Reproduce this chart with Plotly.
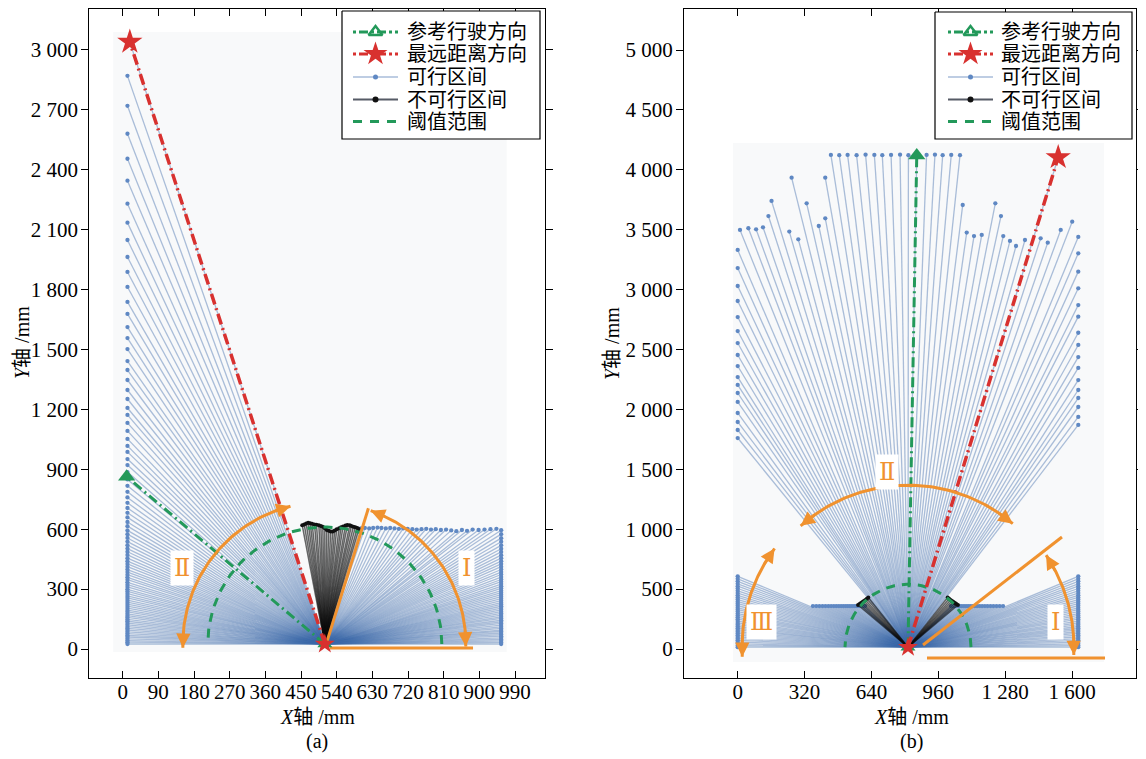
import math
import plotly.graph_objects as go

# page geometry: the browser body keeps an 8px margin, so the figure is drawn 8px smaller
W_REF, H_REF = 1146, 759
OFF = 8
W, H = W_REF - OFF, H_REF - OFF
FONT_NUM = "Liberation Serif"
FONT_CJK = "Noto Sans CJK SC"

GREEN = "#23995A"
RED = "#D8312F"
ORANGE = "#F0922F"
RAY_RGBA = "rgba(60,105,170,0.42)"
BLOCK_RGBA = "rgba(10,10,10,0.62)"
DOT_BLUE = "#5F88C3"

# ====================== panel (a) data ======================
A_ORIGIN = (510, 25)
A_REF_END = (10, 863)          # 参考行驶方向
A_FAR_END = (18, 3040)         # 最远距离方向
A_RIGHT_WALL_X = 955
a_right_wall_y = [25, 33, 41, 48, 56, 64, 72, 80, 88, 95, 103, 111, 120, 128, 136, 144, 153, 161,
                  170, 178, 187, 196, 205, 214, 223, 232, 242, 252, 262, 272, 282, 292, 303, 314,
                  325, 337, 348, 360, 373, 385, 398, 412, 426, 440, 455, 470, 486, 502, 519, 537,
                  555, 575, 595]
a_front_wall_x = [943, 928, 913, 898, 883, 869, 856, 842, 829, 816, 803, 790, 778, 766, 754, 742,
                  731, 719, 708, 697, 686, 675, 664, 653, 643, 632, 622, 611, 601]
a_front_wall_y = [602, 600, 598, 596, 598, 592, 596, 590, 594, 598, 596, 600, 598, 602, 600, 598,
                  600, 602, 604, 602, 604, 606, 604, 606, 608, 606, 604, 606, 604]
A_LEFT_WALL_X = 12
a_left_wall_y = [2870, 2720, 2580, 2455, 2345, 2230, 2135, 2048, 1963, 1888, 1813, 1738, 1678,
                 1612, 1557, 1502, 1442, 1397, 1347, 1297, 1252, 1207, 1172, 1132, 1092, 1052,
                 1017, 987, 951, 921, 886, 849, 817, 787, 759, 732, 706, 682, 659, 636, 615, 594,
                 575, 556, 538, 520, 503, 487, 471, 455, 440, 426, 412, 398, 385, 372, 359, 347,
                 334, 322, 311, 299, 288, 277, 266, 256, 245, 235, 225, 215, 205, 195, 186, 176,
                 167, 158, 148, 139, 130, 121, 112, 103, 95, 86, 77, 68, 60, 51, 42, 34, 25]
a_block_x = [596, 592, 587, 582, 577, 573, 567, 562, 556, 551, 546, 540, 535, 530, 525, 520, 515,
             510, 505, 500, 495, 489, 484, 478, 473, 468, 463, 458, 453]
a_block_y = [601, 606, 610, 612, 616, 620, 621, 618, 614, 610, 605, 600, 594, 588, 589, 592, 596,
             605, 612, 616, 620, 622, 624, 627, 630, 632, 628, 624, 620]
a_xtick_vals = [0, 90, 180, 270, 360, 450, 540, 630, 720, 810, 900, 990]
a_xtick_text = ["0", "90", "180", "270", "360", "450", "540", "630", "720", "810", "900", "990"]
a_ytick_vals = [0, 300, 600, 900, 1200, 1500, 1800, 2100, 2400, 2700, 3000]
a_ytick_text = ["0", "300", "600", "900", "1 200", "1 500", "1 800", "2 100", "2 400", "2 700", "3 000"]

# ====================== panel (b) data ======================
B_ORIGIN = (815, 15)
B_REF_END = (857, 4120)
B_FAR_END = (1534, 4104)
B_RIGHT_WALL_X = 1630
B_LEFT_WALL_X = 0
b_side_wall_y = [15, 29, 43, 58, 72, 86, 101, 115, 130, 144, 159, 173, 188, 203, 218, 233, 249,
                 264, 280, 296, 312, 328, 344, 361, 378, 395, 413, 430, 448, 467, 486, 505, 524,
                 544, 565, 586, 607]
B_FRONT_Y = 358
b_front_right_x = [1270, 1254, 1239, 1224, 1210, 1196, 1183, 1170, 1158, 1146, 1135, 1124, 1113,
                   1103, 1093, 1083, 1073, 1064, 1055, 1046, 1038, 1029, 1021]
b_front_left_x = [609, 601, 592, 584, 575, 566, 557, 547, 537, 527, 517, 506, 495, 484, 472, 460,
                  447, 434, 420, 406, 391, 376, 360]
b_block_x = [1005, 1012, 1019, 1026, 1033, 1040, 1047, 1054, 625, 618, 611, 604, 597, 590, 583, 576]
b_block_y = [430, 420, 410, 400, 392, 384, 376, 368, 430, 420, 410, 400, 392, 384, 376, 368]
b_far_right_col_y = [1870, 1937, 2020, 2095, 2162, 2245, 2346, 2437, 2538, 2640, 2774, 2871, 3011,
                     3150, 3303, 3440]
b_far_mid_x = [1601, 1546, 1484, 1450, 1534, 1375, 1332, 1303, 1271, 1260, 1233, 1168, 1131, 1096,
               1077, 1064, 1022, 981, 944, 904, 857, 817, 777, 734, 692, 654, 612, 569, 526, 486,
               446, 419, 419, 388, 330, 290, 258, 247, 162, 147, 121, 88, 51, 11]
b_far_mid_y = [3567, 3498, 3392, 3428, 4104, 3414, 3364, 3406, 3447, 3614, 3720, 3456, 3447, 3476,
               3706, 4122, 4124, 4122, 4126, 4124, 4120, 4122, 4126, 4124, 4122, 4124, 4126, 4122,
               4124, 4122, 4124, 3934, 3595, 3531, 3720, 3420, 3934, 3484, 3740, 3614, 3520, 3503,
               3512, 3498]
b_far_left_col_y = [3331, 3180, 3030, 2905, 2771, 2654, 2554, 2454, 2362, 2270, 2204, 2137, 2062,
                    1970, 1895, 1828, 1761]
b_xtick_vals = [0, 320, 640, 960, 1280, 1600]
b_xtick_text = ["0", "320", "640", "960", "1 280", "1 600"]
b_ytick_vals = [0, 500, 1000, 1500, 2000, 2500, 3000, 3500, 4000, 4500, 5000]
b_ytick_text = ["0", "500", "1 000", "1 500", "2 000", "2 500", "3 000", "3 500", "4 000", "4 500", "5 000"]

LEGEND_NAMES = ["参考行驶方向", "最远距离方向", "可行区间", "不可行区间", "阈值范围"]

# ====================== layout geometry (reference pixels) ======================
PA = dict(l=89.3, r=545.0, t=9.0, b=678.0, x0=122.7, kx=0.3963, y0=649.0, ky=0.1997)
PB = dict(l=684.0, r=1136.0, t=9.0, b=678.0, x0=737.7, kx=0.20894, y0=649.0, ky=0.1198)
for P in (PA, PB):
    P["xr"] = [(P["l"] - P["x0"]) / P["kx"], (P["r"] - P["x0"]) / P["kx"]]
    P["yr"] = [(P["y0"] - P["b"]) / P["ky"], (P["y0"] - P["t"]) / P["ky"]]


def fx(px):
    return (px - OFF) / W


def fy(py):
    return 1 - (py - OFF) / H


fig = go.Figure()
annotations = []


def ray_traces(origin, xs, ys, color, width, xa, ya, ngroups):
    groups = [([], []) for _ in range(ngroups)]
    for i, (x, y) in enumerate(zip(xs, ys)):
        gx, gy = groups[i % ngroups]
        gx += [origin[0], x, None]
        gy += [origin[1], y, None]
    for gx, gy in groups:
        fig.add_trace(go.Scatter(x=gx, y=gy, mode="lines", line=dict(color=color, width=width),
                                 hoverinfo="skip", showlegend=False, xaxis=xa, yaxis=ya))


def arc_pt(c, r_px, t, P):
    t = math.radians(t)
    return c[0] + r_px * math.cos(t) / P["kx"], c[1] + r_px * math.sin(t) / P["ky"]


def arc_xy(c, r_px, t0, t1, P, n=80):
    pts = [arc_pt(c, r_px, t0 + (t1 - t0) * i / (n - 1), P) for i in range(n)]
    return [p[0] for p in pts], [p[1] for p in pts]


def arrow_on_arc(c, r_px, t_tip, t_tail, P, xref, yref):
    tx, ty = arc_pt(c, r_px, t_tip, P)
    sx, sy = arc_pt(c, r_px, t_tail, P)
    annotations.append(dict(x=tx, y=ty, ax=sx, ay=sy, xref=xref, yref=yref,
                            axref=xref, ayref=yref, showarrow=True, arrowhead=2, arrowsize=1.1,
                            arrowwidth=2.6, arrowcolor=ORANGE, text=""))


def panel(origin, free_x, free_y, block_x, block_y, ref_end, far_end, P, xa, ya,
          thresh_px, orange_arcs, orange_lines, labels):
    ray_traces(origin, free_x, free_y, RAY_RGBA, 1.3, xa, ya, 10)
    fig.add_trace(go.Scatter(x=free_x, y=free_y, mode="markers",
                             marker=dict(size=4.3, color=DOT_BLUE), hoverinfo="skip",
                             showlegend=False, xaxis=xa, yaxis=ya))
    ray_traces(origin, block_x, block_y, BLOCK_RGBA, 1.5, xa, ya, 6)
    fig.add_trace(go.Scatter(x=block_x, y=block_y, mode="markers",
                             marker=dict(size=4, color="#111111"), hoverinfo="skip",
                             showlegend=False, xaxis=xa, yaxis=ya))
    tx, ty = arc_xy(origin, thresh_px, 0, 180, P)
    fig.add_trace(go.Scatter(x=tx, y=ty, mode="lines",
                             line=dict(color=GREEN, width=3, dash="9px,7px"),
                             hoverinfo="skip", showlegend=False, xaxis=xa, yaxis=ya))
    fig.add_trace(go.Scatter(x=[origin[0], ref_end[0]], y=[origin[1], ref_end[1]], mode="lines",
                             line=dict(color=GREEN, width=3, dash="10px,4px,2px,4px"),
                             hoverinfo="skip", showlegend=False, xaxis=xa, yaxis=ya))
    fig.add_trace(go.Scatter(x=[ref_end[0]], y=[ref_end[1]], mode="markers",
                             marker=dict(symbol="triangle-up", size=15, color=GREEN),
                             hoverinfo="skip", showlegend=False, xaxis=xa, yaxis=ya))
    fig.add_trace(go.Scatter(x=[origin[0], far_end[0]], y=[origin[1], far_end[1]], mode="lines",
                             line=dict(color=RED, width=3.5, dash="11px,4px,2px,4px"),
                             hoverinfo="skip", showlegend=False, xaxis=xa, yaxis=ya))
    fig.add_trace(go.Scatter(x=[far_end[0]], y=[far_end[1]], mode="markers",
                             marker=dict(symbol="star", size=19, color=RED),
                             hoverinfo="skip", showlegend=False, xaxis=xa, yaxis=ya))
    for (x0, y0, x1, y1) in orange_lines:
        fig.add_trace(go.Scatter(x=[x0, x1], y=[y0, y1], mode="lines",
                                 line=dict(color=ORANGE, width=3), hoverinfo="skip",
                                 showlegend=False, xaxis=xa, yaxis=ya))
    for (r_px, t0, t1) in orange_arcs:
        ax_, ay_ = arc_xy(origin, r_px, t0, t1, P)
        fig.add_trace(go.Scatter(x=ax_, y=ay_, mode="lines", line=dict(color=ORANGE, width=3),
                                 hoverinfo="skip", showlegend=False, xaxis=xa, yaxis=ya))
        arrow_on_arc(origin, r_px, t1, t1 - 7, P, xa, ya)
        arrow_on_arc(origin, r_px, t0, t0 + 7, P, xa, ya)
    fig.add_trace(go.Scatter(x=[origin[0]], y=[origin[1]], mode="markers",
                             marker=dict(symbol="triangle-up", size=13, color=GREEN),
                             hoverinfo="skip", showlegend=False, xaxis=xa, yaxis=ya))
    fig.add_trace(go.Scatter(x=[origin[0]], y=[origin[1]], mode="markers",
                             marker=dict(symbol="star", size=15, color=RED),
                             hoverinfo="skip", showlegend=False, xaxis=xa, yaxis=ya))
    for (lx, ly, txt) in labels:
        annotations.append(dict(x=lx, y=ly, xref=xa, yref=ya, text=txt, showarrow=False,
                                bgcolor="white", borderpad=3,
                                font=dict(family="DejaVu Serif", size=24, color=ORANGE)))


a_free_x = ([A_RIGHT_WALL_X] * len(a_right_wall_y) + a_front_wall_x + [A_FAR_END[0]]
            + [A_LEFT_WALL_X] * len(a_left_wall_y))
a_free_y = a_right_wall_y + a_front_wall_y + [A_FAR_END[1]] + a_left_wall_y

panel(A_ORIGIN, a_free_x, a_free_y, a_block_x, a_block_y, A_REF_END, A_FAR_END, PA, "x", "y",
      117,
      orange_arcs=[(141, -1.0, 71.0), (142, 104.0, 181.5)],
      orange_lines=[(514, 28, 620, 705), (523, 5, 884, 5)],
      labels=[(868, 405, "Ⅰ"), (149, 405, "Ⅱ")])

b_free_x = ([B_RIGHT_WALL_X] * len(b_side_wall_y) + b_front_right_x
            + [B_RIGHT_WALL_X] * len(b_far_right_col_y) + b_far_mid_x
            + [B_LEFT_WALL_X] * len(b_far_left_col_y) + b_front_left_x
            + [B_LEFT_WALL_X] * len(b_side_wall_y))
b_free_y = (b_side_wall_y + [B_FRONT_Y] * len(b_front_right_x) + b_far_right_col_y + b_far_mid_y
            + b_far_left_col_y + [B_FRONT_Y] * len(b_front_left_x) + b_side_wall_y[::-1])

panel(B_ORIGIN, b_free_x, b_free_y, b_block_x, b_block_y, B_REF_END, B_FAR_END, PB, "x2", "y2",
      63,
      orange_arcs=[(162, 49.7, 131.5), (166, 143.5, 183.3), (166, -2.7, 33.7)],
      orange_lines=[(887, 33, 1552, 935), (906, -75, 1758, -75)],
      labels=[(714, 1477, "Ⅱ"), (116, 225, "Ⅲ"), (1519, 225, "Ⅰ")])

# ---------------- hand-drawn legends on a full-page overlay (reference pixel units) ----------------
LEG_ROWS = [32, 54, 77, 99.5, 121.5]
LEG_FONT = dict(family="Liberation Serif, " + FONT_CJK, size=20, color="black")
for (bx0, bx1, by0, by1, sx0, sx1, tx) in ((342, 540, 11, 139, 353, 398, 406),
                                            (935, 1132, 12, 139, 948, 993, 1000)):
    fig.add_trace(go.Scatter(x=[bx0, bx1, bx1, bx0, bx0], y=[by0, by0, by1, by1, by0],
                             mode="lines", fill="toself", fillcolor="white",
                             line=dict(color="black", width=1.2), hoverinfo="skip",
                             showlegend=False, xaxis="x3", yaxis="y3"))
    sm = (sx0 + sx1) / 2
    samples = [
        (dict(color=GREEN, width=3, dash="3px,3px,9px,3px"),
         dict(symbol="triangle-up-open", size=12, color=GREEN, line=dict(width=2.5))),
        (dict(color=RED, width=3, dash="3px,3px,9px,3px"),
         dict(symbol="star", size=18, color=RED)),
        (dict(color="#A9BDDA", width=1.6), dict(size=5, color=DOT_BLUE)),
        (dict(color="#565b66", width=2), dict(size=6, color="#111111")),
        (dict(color=GREEN, width=3, dash="9px,8px"), None),
    ]
    for row, name, (ln, mk) in zip(LEG_ROWS, LEGEND_NAMES, samples):
        fig.add_trace(go.Scatter(x=[sx0, sx1], y=[row, row], mode="lines", line=ln,
                                 hoverinfo="skip", showlegend=False, xaxis="x3", yaxis="y3"))
        if mk is not None:
            fig.add_trace(go.Scatter(x=[sm], y=[row], mode="markers", marker=mk,
                                     hoverinfo="skip", showlegend=False, xaxis="x3", yaxis="y3"))
        annotations.append(dict(x=tx, y=row, xref="x3", yref="y3", text=name, showarrow=False,
                                xanchor="left", yanchor="middle", borderpad=0,
                                font=LEG_FONT))


def axis_common(vals, text, rng, dom, ticks, standoff):
    return dict(range=rng, domain=dom, tickmode="array", tickvals=vals, ticktext=text,
                ticks=ticks, ticklen=7, tickwidth=1.2, tickcolor="black", showline=True,
                linecolor="black", linewidth=1.3, mirror="ticks", showgrid=False, zeroline=False,
                ticklabelstandoff=standoff, fixedrange=True,
                tickfont=dict(family=FONT_NUM, size=21, color="black"))


ydom = [fy(PA["b"]), fy(PA["t"])]
fig.update_layout(
    xaxis=axis_common(a_xtick_vals, a_xtick_text, PA["xr"], [fx(PA["l"]), fx(PA["r"])], "inside", -5),
    yaxis=axis_common(a_ytick_vals, a_ytick_text, PA["yr"], ydom, "outside", -1),
    xaxis2=axis_common(b_xtick_vals, b_xtick_text, PB["xr"], [fx(PB["l"]), fx(PB["r"])], "inside", -5),
    yaxis2=axis_common(b_ytick_vals, b_ytick_text, PB["yr"], ydom, "outside", -1),
    xaxis3=dict(domain=[0, 1], range=[OFF, W_REF], visible=False, fixedrange=True, anchor="y3"),
    yaxis3=dict(domain=[0, 1], range=[H_REF, OFF], visible=False, fixedrange=True, anchor="x3"),
)
fig.layout.xaxis.anchor = "y"
fig.layout.yaxis.anchor = "x"
fig.layout.xaxis2.anchor = "y2"
fig.layout.yaxis2.anchor = "x2"

shapes = [
    dict(type="rect", xref="x", yref="y", x0=-24, x1=969, y0=-15, y1=3090, layer="below",
         fillcolor="#F8F9FA", line=dict(width=0)),
    dict(type="rect", xref="x2", yref="y2", x0=-22, x1=1753, y0=-109, y1=4224, layer="below",
         fillcolor="#F8F9FA", line=dict(width=0)),
]

TITLE_FONT = dict(family=FONT_NUM + ", " + FONT_CJK, size=20, color="black")
for cx, sub in ((317, "(a)"), (911, "(b)")):
    annotations.append(dict(x=fx(cx), y=fy(717), xref="paper", yref="paper",
                            xanchor="center", yanchor="middle", borderpad=0,
                            text="<i>X</i>轴 /mm", showarrow=False, font=TITLE_FONT))
    annotations.append(dict(x=fx(cx), y=fy(741), xref="paper", yref="paper",
                            xanchor="center", yanchor="middle", borderpad=0,
                            text=sub, showarrow=False, font=TITLE_FONT))
for cx in (22, 612):
    annotations.append(dict(x=fx(cx), y=fy(343), xref="paper", yref="paper",
                            xanchor="center", yanchor="middle", borderpad=0,
                            text="<i>Y</i>轴 /mm", textangle=-90, showarrow=False,
                            font=TITLE_FONT))

fig.update_layout(
    width=W, height=H, margin=dict(l=0, r=0, t=0, b=0),
    paper_bgcolor="white", plot_bgcolor="rgba(0,0,0,0)",
    showlegend=False,
    shapes=shapes, annotations=annotations,
)

fig.write_html("out.html")
